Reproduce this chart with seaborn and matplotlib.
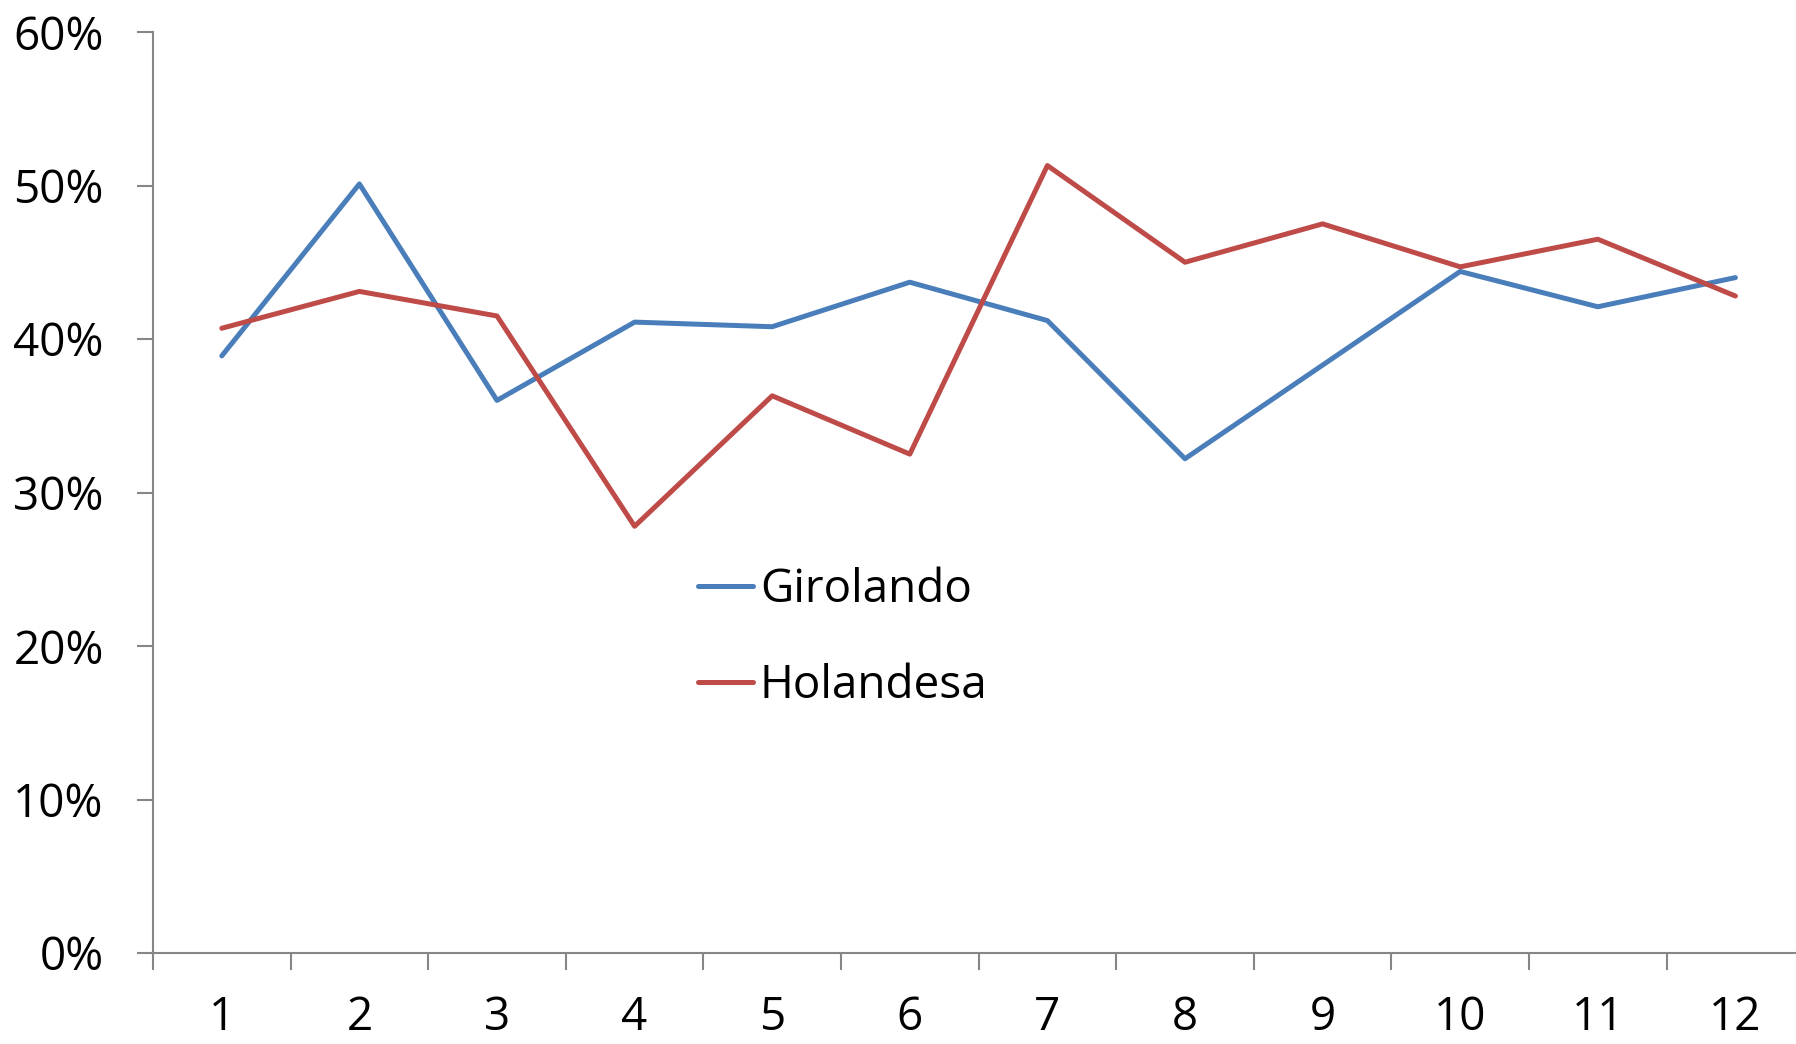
import matplotlib
matplotlib.use("Agg")
import matplotlib.pyplot as plt
import pandas as pd
import seaborn as sns
from matplotlib.ticker import FixedLocator, FuncFormatter, NullFormatter

months = list(range(1, 13))
girolando = [38.9, 50.1, 36.0, 41.1, 40.8, 43.7, 41.2, 32.2, 38.3, 44.4, 42.1, 44.0]
holandesa = [40.7, 43.1, 41.5, 27.8, 36.3, 32.5, 51.3, 45.0, 47.5, 44.7, 46.5, 42.8]
y_ticks = [0, 10, 20, 30, 40, 50, 60]

df = pd.DataFrame({
    "mes": months * 2,
    "valor": [v / 100 for v in girolando + holandesa],
    "raca": ["Girolando"] * 12 + ["Holandesa"] * 12,
})

sns.set_style("white")
plt.rcParams["font.family"] = ["Open Sans", "DejaVu Sans"]
plt.rcParams["text.color"] = "black"

axis_color = "#868686"
font_size = 33

fig = plt.figure(figsize=(17.96, 10.44), dpi=100)
ax = fig.add_axes([153 / 1796, 91 / 1044, 12 * 137.6 / 1796, 921 / 1044])

sns.lineplot(
    data=df, x="mes", y="valor", hue="raca",
    palette=["#4A7EBB", "#BE4B48"], linewidth=3.6, ax=ax,
)
for line in ax.get_lines():
    line.set_solid_capstyle("round")
    line.set_solid_joinstyle("round")

ax.set_xlim(0.5, 12.5)
ax.set_ylim(0, 0.6)
ax.set_xlabel("")
ax.set_ylabel("")

ax.yaxis.set_major_locator(FixedLocator([t / 100 for t in y_ticks]))
ax.yaxis.set_major_formatter(FuncFormatter(lambda v, _: f"{v * 100:.0f}%"))
ax.xaxis.set_major_locator(FixedLocator([m - 0.5 for m in months] + [12.5]))
ax.xaxis.set_major_formatter(NullFormatter())
ax.xaxis.set_minor_locator(FixedLocator(months))
ax.xaxis.set_minor_formatter(FuncFormatter(lambda v, _: f"{v:.0f}"))

for side in ["top", "right"]:
    ax.spines[side].set_visible(False)
for side in ["left", "bottom"]:
    ax.spines[side].set_color(axis_color)
    ax.spines[side].set_linewidth(1.5)

ax.tick_params(axis="y", which="major", direction="out", length=11.5, width=1.5,
               color=axis_color, labelsize=font_size, pad=24, left=True,
               labelcolor="black")
ax.tick_params(axis="x", which="major", direction="out", length=12, width=1.5,
               color=axis_color, bottom=True)
ax.tick_params(axis="x", which="minor", length=0, labelsize=font_size, pad=30,
               labelcolor="black")

handles, labels = ax.get_legend_handles_labels()
leg = ax.legend(
    handles, labels, loc="upper left",
    bbox_to_anchor=(698 / 1796, 1 - 567 / 1044), bbox_transform=fig.transFigure,
    frameon=False, fontsize=font_size, handlelength=1.2, handletextpad=0.15,
    labelspacing=1.1, borderpad=0, borderaxespad=0,
)
for text in leg.get_texts():
    text.set_color("black")
for line in leg.get_lines():
    line.set_solid_capstyle("round")

fig.savefig("out.png", dpi=100)
